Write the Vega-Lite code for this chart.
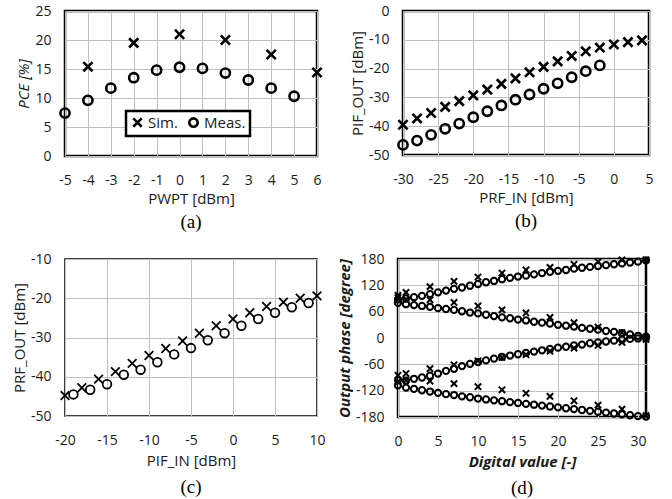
{
  "$schema": "https://vega.github.io/schema/vega-lite/v6.json",
  "background": "white",
  "padding": {"left": 11, "top": 2, "right": 5, "bottom": 2},
  "spacing": 16,
  "config": {
    "font": "Open Sans",
    "view": {"stroke": "black", "strokeWidth": 2.5},
    "axis": {
      "grid": true, "gridColor": "#c0c0c0", "gridWidth": 1, "gridOpacity": 1,
      "ticks": false, "domain": false, "labelOverlap": false, "labelFlush": false, "labelExpr": "'' + datum.value",
      "labelFont": "Open Sans", "labelFontSize": 14, "labelColor": "#1a1a1a",
      "titleFont": "Open Sans", "titleFontSize": 15, "titleFontWeight": "normal", "titleColor": "#1a1a1a"
    },
    "axisX": {"labelPadding": 17, "titlePadding": 4},
    "axisY": {"labelPadding": 14, "titlePadding": 3},
    "title": {"font": "Liberation Serif", "fontSize": 19, "fontWeight": "normal", "orient": "bottom", "offset": 7, "color": "black"},
    "legend": {"title": null, "strokeColor": "black", "strokeWidth": 2.5, "fillColor": "white", "labelFont": "Open Sans", "labelColor": "#1a1a1a"},
    "point": {"color": "black", "filled": false, "opacity": 1}
  },
  "datasets": {
    "a": [
      {"x": -4, "y": 15.4, "s": "Sim."}, {"x": -2, "y": 19.5, "s": "Sim."}, {"x": 0, "y": 21.0, "s": "Sim."},
      {"x": 2, "y": 20.0, "s": "Sim."}, {"x": 4, "y": 17.5, "s": "Sim."}, {"x": 6, "y": 14.4, "s": "Sim."},
      {"x": -5, "y": 7.4, "s": "Meas."}, {"x": -4, "y": 9.6, "s": "Meas."}, {"x": -3, "y": 11.7, "s": "Meas."},
      {"x": -2, "y": 13.5, "s": "Meas."}, {"x": -1, "y": 14.8, "s": "Meas."}, {"x": 0, "y": 15.3, "s": "Meas."},
      {"x": 1, "y": 15.1, "s": "Meas."}, {"x": 2, "y": 14.3, "s": "Meas."}, {"x": 3, "y": 13.1, "s": "Meas."},
      {"x": 4, "y": 11.7, "s": "Meas."}, {"x": 5, "y": 10.3, "s": "Meas."}
    ],
    "b": [
      {"x": -30, "y": -39.5, "s": "Sim."}, {"x": -28, "y": -37.3, "s": "Sim."}, {"x": -26, "y": -35.4, "s": "Sim."},
      {"x": -24, "y": -33.3, "s": "Sim."}, {"x": -22, "y": -31.3, "s": "Sim."}, {"x": -20, "y": -29.3, "s": "Sim."},
      {"x": -18, "y": -27.3, "s": "Sim."}, {"x": -16, "y": -25.3, "s": "Sim."}, {"x": -14, "y": -23.4, "s": "Sim."},
      {"x": -12, "y": -21.3, "s": "Sim."}, {"x": -10, "y": -19.4, "s": "Sim."}, {"x": -8, "y": -17.5, "s": "Sim."},
      {"x": -6, "y": -15.6, "s": "Sim."}, {"x": -4, "y": -14.0, "s": "Sim."}, {"x": -2, "y": -12.7, "s": "Sim."},
      {"x": 0, "y": -11.6, "s": "Sim."}, {"x": 2, "y": -10.8, "s": "Sim."}, {"x": 4, "y": -10.2, "s": "Sim."},
      {"x": -30, "y": -46.5, "s": "Meas."}, {"x": -28, "y": -45.0, "s": "Meas."}, {"x": -26, "y": -43.0, "s": "Meas."},
      {"x": -24, "y": -40.9, "s": "Meas."}, {"x": -22, "y": -39.1, "s": "Meas."}, {"x": -20, "y": -36.9, "s": "Meas."},
      {"x": -18, "y": -34.8, "s": "Meas."}, {"x": -16, "y": -32.8, "s": "Meas."}, {"x": -14, "y": -30.8, "s": "Meas."},
      {"x": -12, "y": -29.0, "s": "Meas."}, {"x": -10, "y": -27.0, "s": "Meas."}, {"x": -8, "y": -25.1, "s": "Meas."},
      {"x": -6, "y": -23.0, "s": "Meas."}, {"x": -4, "y": -20.9, "s": "Meas."}, {"x": -2, "y": -18.9, "s": "Meas."}
    ],
    "c": [
      {"x": -19, "y": -44.5, "s": "Meas."}, {"x": -17, "y": -43.3, "s": "Meas."}, {"x": -15, "y": -41.9, "s": "Meas."},
      {"x": -13, "y": -39.5, "s": "Meas."}, {"x": -11, "y": -38.2, "s": "Meas."}, {"x": -9, "y": -36.3, "s": "Meas."},
      {"x": -7, "y": -34.3, "s": "Meas."}, {"x": -5, "y": -32.7, "s": "Meas."}, {"x": -3, "y": -30.7, "s": "Meas."},
      {"x": -1, "y": -28.9, "s": "Meas."}, {"x": 1, "y": -27.0, "s": "Meas."}, {"x": 3, "y": -25.3, "s": "Meas."},
      {"x": 5, "y": -23.7, "s": "Meas."}, {"x": 7, "y": -22.3, "s": "Meas."}, {"x": 9, "y": -21.2, "s": "Meas."},
      {"x": -20, "y": -44.8, "s": "Sim."}, {"x": -18, "y": -42.8, "s": "Sim."}, {"x": -16, "y": -40.6, "s": "Sim."},
      {"x": -14, "y": -38.7, "s": "Sim."}, {"x": -12, "y": -36.6, "s": "Sim."}, {"x": -10, "y": -34.6, "s": "Sim."},
      {"x": -8, "y": -32.8, "s": "Sim."}, {"x": -6, "y": -30.9, "s": "Sim."}, {"x": -4, "y": -28.9, "s": "Sim."},
      {"x": -2, "y": -27.0, "s": "Sim."}, {"x": 0, "y": -25.3, "s": "Sim."}, {"x": 2, "y": -23.7, "s": "Sim."},
      {"x": 4, "y": -22.1, "s": "Sim."}, {"x": 6, "y": -21.0, "s": "Sim."}, {"x": 8, "y": -20.0, "s": "Sim."},
      {"x": 10, "y": -19.4, "s": "Sim."}
    ],
    "d": [
      {"x": 0, "y": 88, "s": "Meas."}, {"x": 1, "y": 90, "s": "Meas."}, {"x": 2, "y": 93, "s": "Meas."}, {"x": 3, "y": 96, "s": "Meas."},
      {"x": 4, "y": 100, "s": "Meas."}, {"x": 5, "y": 104, "s": "Meas."}, {"x": 6, "y": 108, "s": "Meas."}, {"x": 7, "y": 112, "s": "Meas."},
      {"x": 8, "y": 115, "s": "Meas."}, {"x": 9, "y": 119, "s": "Meas."}, {"x": 10, "y": 123, "s": "Meas."}, {"x": 11, "y": 127, "s": "Meas."},
      {"x": 12, "y": 130, "s": "Meas."}, {"x": 13, "y": 134, "s": "Meas."}, {"x": 14, "y": 137, "s": "Meas."}, {"x": 15, "y": 140, "s": "Meas."},
      {"x": 16, "y": 142, "s": "Meas."}, {"x": 17, "y": 145, "s": "Meas."}, {"x": 18, "y": 148, "s": "Meas."}, {"x": 19, "y": 151, "s": "Meas."},
      {"x": 20, "y": 153, "s": "Meas."}, {"x": 21, "y": 155, "s": "Meas."}, {"x": 22, "y": 158, "s": "Meas."}, {"x": 23, "y": 160, "s": "Meas."},
      {"x": 24, "y": 162, "s": "Meas."}, {"x": 25, "y": 164, "s": "Meas."}, {"x": 26, "y": 166, "s": "Meas."}, {"x": 27, "y": 168, "s": "Meas."},
      {"x": 28, "y": 170, "s": "Meas."}, {"x": 29, "y": 172, "s": "Meas."}, {"x": 30, "y": 174, "s": "Meas."}, {"x": 31, "y": 177, "s": "Meas."},
      {"x": 0, "y": 80, "s": "Meas."}, {"x": 1, "y": 77, "s": "Meas."}, {"x": 2, "y": 75, "s": "Meas."}, {"x": 3, "y": 73, "s": "Meas."},
      {"x": 4, "y": 71, "s": "Meas."}, {"x": 5, "y": 68, "s": "Meas."}, {"x": 6, "y": 66, "s": "Meas."}, {"x": 7, "y": 64, "s": "Meas."},
      {"x": 8, "y": 61, "s": "Meas."}, {"x": 9, "y": 58, "s": "Meas."}, {"x": 10, "y": 56, "s": "Meas."}, {"x": 11, "y": 53, "s": "Meas."},
      {"x": 12, "y": 50, "s": "Meas."}, {"x": 13, "y": 47, "s": "Meas."}, {"x": 14, "y": 45, "s": "Meas."}, {"x": 15, "y": 42, "s": "Meas."},
      {"x": 16, "y": 40, "s": "Meas."}, {"x": 17, "y": 37, "s": "Meas."}, {"x": 18, "y": 35, "s": "Meas."}, {"x": 19, "y": 33, "s": "Meas."},
      {"x": 20, "y": 30, "s": "Meas."}, {"x": 21, "y": 28, "s": "Meas."}, {"x": 22, "y": 26, "s": "Meas."}, {"x": 23, "y": 23, "s": "Meas."},
      {"x": 24, "y": 21, "s": "Meas."}, {"x": 25, "y": 19, "s": "Meas."}, {"x": 26, "y": 16, "s": "Meas."}, {"x": 27, "y": 14, "s": "Meas."},
      {"x": 28, "y": 11, "s": "Meas."}, {"x": 29, "y": 8, "s": "Meas."}, {"x": 30, "y": 5, "s": "Meas."}, {"x": 31, "y": 3, "s": "Meas."},
      {"x": 0, "y": -96, "s": "Meas."}, {"x": 1, "y": -97, "s": "Meas."}, {"x": 2, "y": -93, "s": "Meas."}, {"x": 3, "y": -90, "s": "Meas."},
      {"x": 4, "y": -86, "s": "Meas."}, {"x": 5, "y": -81, "s": "Meas."}, {"x": 6, "y": -75, "s": "Meas."}, {"x": 7, "y": -70, "s": "Meas."},
      {"x": 8, "y": -64, "s": "Meas."}, {"x": 9, "y": -59, "s": "Meas."}, {"x": 10, "y": -55, "s": "Meas."}, {"x": 11, "y": -51, "s": "Meas."},
      {"x": 12, "y": -47, "s": "Meas."}, {"x": 13, "y": -43, "s": "Meas."}, {"x": 14, "y": -40, "s": "Meas."}, {"x": 15, "y": -37, "s": "Meas."},
      {"x": 16, "y": -34, "s": "Meas."}, {"x": 17, "y": -31, "s": "Meas."}, {"x": 18, "y": -28, "s": "Meas."}, {"x": 19, "y": -25, "s": "Meas."},
      {"x": 20, "y": -22, "s": "Meas."}, {"x": 21, "y": -20, "s": "Meas."}, {"x": 22, "y": -17, "s": "Meas."}, {"x": 23, "y": -15, "s": "Meas."},
      {"x": 24, "y": -12, "s": "Meas."}, {"x": 25, "y": -10, "s": "Meas."}, {"x": 26, "y": -8, "s": "Meas."}, {"x": 27, "y": -6, "s": "Meas."},
      {"x": 28, "y": -4, "s": "Meas."}, {"x": 29, "y": -2, "s": "Meas."}, {"x": 30, "y": -1, "s": "Meas."}, {"x": 31, "y": 1, "s": "Meas."},
      {"x": 0, "y": -108, "s": "Meas."}, {"x": 1, "y": -113, "s": "Meas."}, {"x": 2, "y": -116, "s": "Meas."}, {"x": 3, "y": -119, "s": "Meas."},
      {"x": 4, "y": -122, "s": "Meas."}, {"x": 5, "y": -125, "s": "Meas."}, {"x": 6, "y": -128, "s": "Meas."}, {"x": 7, "y": -130, "s": "Meas."},
      {"x": 8, "y": -133, "s": "Meas."}, {"x": 9, "y": -135, "s": "Meas."}, {"x": 10, "y": -138, "s": "Meas."}, {"x": 11, "y": -140, "s": "Meas."},
      {"x": 12, "y": -142, "s": "Meas."}, {"x": 13, "y": -144, "s": "Meas."}, {"x": 14, "y": -146, "s": "Meas."}, {"x": 15, "y": -148, "s": "Meas."},
      {"x": 16, "y": -150, "s": "Meas."}, {"x": 17, "y": -152, "s": "Meas."}, {"x": 18, "y": -154, "s": "Meas."}, {"x": 19, "y": -156, "s": "Meas."},
      {"x": 20, "y": -158, "s": "Meas."}, {"x": 21, "y": -160, "s": "Meas."}, {"x": 22, "y": -162, "s": "Meas."}, {"x": 23, "y": -164, "s": "Meas."},
      {"x": 24, "y": -166, "s": "Meas."}, {"x": 25, "y": -168, "s": "Meas."}, {"x": 26, "y": -170, "s": "Meas."}, {"x": 27, "y": -172, "s": "Meas."},
      {"x": 28, "y": -174, "s": "Meas."}, {"x": 29, "y": -176, "s": "Meas."}, {"x": 30, "y": -178, "s": "Meas."}, {"x": 31, "y": -179, "s": "Meas."},
      {"x": 0, "y": 97, "s": "Sim."}, {"x": 1, "y": 104, "s": "Sim."}, {"x": 4, "y": 117, "s": "Sim."}, {"x": 7, "y": 129, "s": "Sim."},
      {"x": 10, "y": 139, "s": "Sim."}, {"x": 13, "y": 148, "s": "Sim."}, {"x": 16, "y": 155, "s": "Sim."}, {"x": 19, "y": 161, "s": "Sim."},
      {"x": 22, "y": 168, "s": "Sim."}, {"x": 25, "y": 174, "s": "Sim."}, {"x": 28, "y": 178, "s": "Sim."}, {"x": 31, "y": 178, "s": "Sim."},
      {"x": 0, "y": 92, "s": "Sim."}, {"x": 1, "y": 88, "s": "Sim."}, {"x": 4, "y": 87, "s": "Sim."}, {"x": 7, "y": 81, "s": "Sim."},
      {"x": 10, "y": 73, "s": "Sim."}, {"x": 13, "y": 64, "s": "Sim."}, {"x": 16, "y": 57, "s": "Sim."}, {"x": 19, "y": 47, "s": "Sim."},
      {"x": 22, "y": 35, "s": "Sim."}, {"x": 25, "y": 25, "s": "Sim."}, {"x": 28, "y": 12, "s": "Sim."}, {"x": 31, "y": 1, "s": "Sim."},
      {"x": 0, "y": -85, "s": "Sim."}, {"x": 1, "y": -81, "s": "Sim."}, {"x": 4, "y": -70, "s": "Sim."}, {"x": 7, "y": -61, "s": "Sim."},
      {"x": 10, "y": -52, "s": "Sim."}, {"x": 13, "y": -44, "s": "Sim."}, {"x": 16, "y": -38, "s": "Sim."}, {"x": 19, "y": -30, "s": "Sim."},
      {"x": 22, "y": -23, "s": "Sim."}, {"x": 25, "y": -17, "s": "Sim."}, {"x": 28, "y": -10, "s": "Sim."}, {"x": 31, "y": -3, "s": "Sim."},
      {"x": 0, "y": -100, "s": "Sim."}, {"x": 1, "y": -96, "s": "Sim."}, {"x": 4, "y": -98, "s": "Sim."}, {"x": 7, "y": -104, "s": "Sim."},
      {"x": 10, "y": -111, "s": "Sim."}, {"x": 13, "y": -118, "s": "Sim."}, {"x": 16, "y": -126, "s": "Sim."}, {"x": 19, "y": -133, "s": "Sim."},
      {"x": 22, "y": -143, "s": "Sim."}, {"x": 25, "y": -153, "s": "Sim."}, {"x": 28, "y": -162, "s": "Sim."}, {"x": 31, "y": -177, "s": "Sim."}
    ]
  },
  "vconcat": [
    {
      "hconcat": [
        {
          "title": "(a)",
          "width": 252, "height": 145,
          "data": {"name": "a"},
          "mark": {"type": "point", "strokeWidth": 2.6, "size": 85, "clip": false},
          "encoding": {
            "x": {"field": "x", "type": "quantitative", "scale": {"domain": [-5, 6], "nice": false, "zero": false}, "axis": {"values": [-5, -4, -3, -2, -1, 0, 1, 2, 3, 4, 5, 6], "title": "PWPT [dBm]"}},
            "y": {"field": "y", "type": "quantitative", "scale": {"domain": [0, 25], "nice": false}, "axis": {"values": [0, 5, 10, 15, 20, 25], "title": "PCE [%]", "titleFontStyle": "italic"}},
            "shape": {"field": "s", "type": "nominal", "scale": {"domain": ["Sim.", "Meas."], "range": ["M-1,-1L1,1M-1,1L1,-1", "circle"]},
              "legend": {"orient": "none", "legendX": 61, "legendY": 100, "direction": "horizontal", "labelFontSize": 15, "symbolSize": 70, "symbolStrokeWidth": 2.6, "symbolStrokeColor": "black", "padding": 4, "columnPadding": 6, "labelOffset": 3}}
          }
        },
        {
          "title": "(b)",
          "width": 246, "height": 144,
          "data": {"name": "b"},
          "mark": {"type": "point", "strokeWidth": 2.6, "size": 85, "clip": false},
          "encoding": {
            "x": {"field": "x", "type": "quantitative", "scale": {"domain": [-30, 5], "nice": false, "zero": false}, "axis": {"values": [-30, -25, -20, -15, -10, -5, 0, 5], "title": "PRF_IN [dBm]"}},
            "y": {"field": "y", "type": "quantitative", "scale": {"domain": [-50, 0], "nice": false}, "axis": {"values": [-50, -40, -30, -20, -10, 0], "title": "PIF_OUT [dBm]"}},
            "shape": {"field": "s", "type": "nominal", "scale": {"domain": ["Sim.", "Meas."], "range": ["M-1,-1L1,1M-1,1L1,-1", "circle"]},
              "legend": {"orient": "none", "legendX": 0, "legendY": 1, "direction": "vertical", "labelFontSize": 15, "symbolSize": 70, "symbolStrokeWidth": 2.6, "symbolStrokeColor": "black", "padding": 4, "rowPadding": 1, "labelOffset": 3}}
          }
        }
      ]
    },
    {
      "spacing": 10,
      "hconcat": [
        {
          "title": {"text": "(c)", "offset": 10},
          "width": 252, "height": 157,
          "view": {"stroke": "black", "strokeWidth": 1.5},
          "data": {"name": "c"},
          "mark": {"type": "point", "strokeWidth": 1.8, "size": 75, "clip": false},
          "encoding": {
            "x": {"field": "x", "type": "quantitative", "scale": {"domain": [-20, 10], "nice": false, "zero": false}, "axis": {"values": [-20, -15, -10, -5, 0, 5, 10], "title": "PIF_IN [dBm]", "titlePadding": 6}},
            "y": {"field": "y", "type": "quantitative", "scale": {"domain": [-50, -10], "nice": false, "zero": false}, "axis": {"values": [-50, -40, -30, -20, -10], "title": "PRF_OUT [dBm]"}},
            "shape": {"field": "s", "type": "nominal", "scale": {"domain": ["Meas.", "Sim."], "range": ["circle", "M-1,-1L1,1M-1,1L1,-1"]},
              "legend": {"orient": "none", "legendX": 178, "legendY": 100, "direction": "vertical", "labelFontSize": 13, "symbolSize": 55, "symbolStrokeWidth": 1.8, "symbolStrokeColor": "black", "padding": 3, "rowPadding": 0, "labelOffset": 3}}
          }
        },
        {
          "title": {"text": "(d)", "offset": 10},
          "width": 248, "height": 158,
          "data": {"name": "d"},
          "mark": {"type": "point", "strokeWidth": 2, "size": 40, "clip": false},
          "encoding": {
            "x": {"field": "x", "type": "quantitative", "scale": {"domain": [0, 31], "nice": false}, "axis": {"values": [0, 5, 10, 15, 20, 25, 30], "title": "Digital value [-]", "titleFontStyle": "italic", "titleFontWeight": "bold", "titlePadding": 6}},
            "y": {"field": "y", "type": "quantitative", "scale": {"domain": [-180, 180], "nice": false}, "axis": {"values": [-180, -120, -60, 0, 60, 120, 180], "title": "Output phase [degree]", "titleFontStyle": "italic", "titleFontWeight": "bold"}},
            "shape": {"field": "s", "type": "nominal", "scale": {"domain": ["Meas.", "Sim."], "range": ["circle", "M-1,-1L1,1M-1,1L1,-1"]},
              "legend": {"orient": "none", "legendX": 176, "legendY": 102, "direction": "vertical", "labelFontSize": 13, "symbolSize": 45, "symbolStrokeWidth": 2, "symbolStrokeColor": "black", "padding": 3, "rowPadding": 0, "labelOffset": 3}}
          }
        }
      ]
    }
  ]
}
